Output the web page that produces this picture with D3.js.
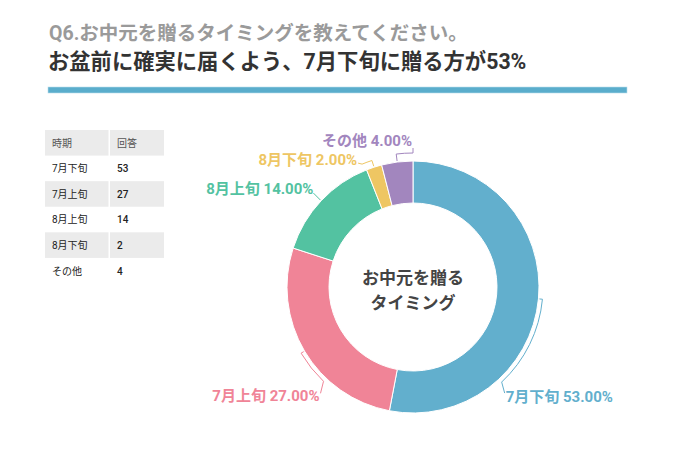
<!DOCTYPE html>
<html>
<head>
<meta charset="utf-8">
<script src="https://cdn.jsdelivr.net/npm/d3@7"></script>
<style>
  html, body { margin: 0; padding: 0; background: #fff; }
  svg { display: block; font-family: Roboto, "Noto Sans CJK JP", sans-serif; }
</style>
</head>
<body>
<svg id="chart" width="675" height="476"></svg>
<script>
// ---- data ----
const titleText = "Q6.お中元を贈るタイミングを教えてください。";
const subtitleText = "お盆前に確実に届くよう、7月下旬に贈る方が53%";
const categories = ["7月下旬", "7月上旬", "8月上旬", "8月下旬", "その他"];
const values = [53, 27, 14, 2, 4];
const tableHeaders = ["時期", "回答"];
const centerLines = ["お中元を贈る", "タイミング"];
const colors = ["#62afcd", "#f08497", "#53c2a1", "#eec663", "#a286be"];

// ---- layout (label placement, degrees clockwise from top) ----
const labelLayout = [
  { end: 137,   rb: 130, lx: 3,  ly: 11, tx: 1,  ty: 9,  anchor: "start" },
  { end: 223.5, rb: 130, lx: -3, ly: 12, tx: -1, ty: 8,  anchor: "end" },
  { end: null,  rb: 127, lx: -7, ly: -7, tx: 0,  ty: 1,  anchor: "end" },
  { end: 337.5, rb: 133, lx: -4, ly: -1, tx: -1, ty: 2,  anchor: "end" },
  { end: 360,   rb: 134, lx: 0,  ly: -5, tx: -1, ty: -2, anchor: "end" }
];

const svg = d3.select("#chart");

// header
svg.append("text").attr("x", 49).attr("y", 39.5)
  .attr("font-size", 19.5).attr("font-weight", "bold").attr("fill", "#9a9a9a")
  .text(titleText);
svg.append("text").attr("x", 48).attr("y", 69)
  .attr("font-size", 21.3).attr("font-weight", "bold").attr("fill", "#333")
  .text(subtitleText);
svg.append("rect").attr("x", 48).attr("y", 87).attr("width", 579).attr("height", 6)
  .attr("fill", "#5aadcc").attr("stroke", "#b9dcea").attr("stroke-width", 0.6);

// table
const rowY = d3.scaleBand().domain(d3.range(values.length + 1)).range([130, 283.5]);
const colX = [45, 110];
const colW = [63.5, 54];
const tbl = svg.append("g");
const rowsData = [tableHeaders].concat(categories.map((c, i) => [c, String(values[i])]));
rowsData.forEach((row, i) => {
  const shaded = i % 2 === 0;
  row.forEach((cell, j) => {
    if (shaded) {
      tbl.append("rect").attr("x", colX[j]).attr("y", rowY(i))
        .attr("width", colW[j]).attr("height", rowY.bandwidth())
        .attr("fill", "#ebebeb");
    }
    tbl.append("text")
      .attr("x", colX[j] + 7)
      .attr("y", rowY(i) + rowY.bandwidth() / 2 + 3.8)
      .attr("font-size", 10)
      .attr("font-weight", i > 0 && j === 1 ? 500 : "normal")
      .attr("fill", i === 0 ? "#555" : "#222")
      .text(cell);
  });
});

// donut
const cx = 413, cy = 287, R = 126, r0 = 84;
const total = d3.sum(values);
const pie = d3.pie().sort(null).value(d => d).startAngle(0).endAngle(2 * Math.PI);
const arcs = pie(values);
const arcGen = d3.arc().innerRadius(r0).outerRadius(R);
const g = svg.append("g").attr("transform", `translate(${cx},${cy})`);
g.selectAll("path.slice").data(arcs).join("path")
  .attr("class", "slice")
  .attr("d", arcGen)
  .attr("fill", (d, i) => colors[i])
  .attr("stroke", "#fff").attr("stroke-width", 1);

const polar = (a, rr) => [rr * Math.sin(a), -rr * Math.cos(a)];
const rad = deg => deg * Math.PI / 180;

arcs.forEach((d, i) => {
  const L = labelLayout[i];
  const mid = (d.startAngle + d.endAngle) / 2;
  const endA = L.end === null ? mid : rad(L.end);
  const p0 = polar(mid, R + 1);
  const p1 = polar(mid, L.rb);
  const p2 = polar(endA, L.rb);
  const p3 = [p2[0] + L.lx, p2[1] + L.ly];
  const sweep = endA > mid ? 1 : 0;
  let path = `M${p0[0]},${p0[1]}L${p1[0]},${p1[1]}`;
  if (Math.abs(endA - mid) > 1e-6) path += `A${L.rb},${L.rb} 0 0 ${sweep} ${p2[0]},${p2[1]}`;
  path += `L${p3[0]},${p3[1]}`;
  g.append("path").attr("d", path).attr("fill", "none")
    .attr("stroke", colors[i]).attr("stroke-width", 1);
  g.append("text")
    .attr("x", p3[0] + L.tx).attr("y", p3[1] + L.ty)
    .attr("text-anchor", L.anchor)
    .attr("font-size", 15).attr("font-weight", "bold")
    .attr("fill", colors[i])
    .text(`${categories[i]} ${(values[i] / total * 100).toFixed(2)}%`);
});

// center text
centerLines.forEach((t, i) => {
  g.append("text").attr("x", 0).attr("y", -3.5 + i * 25)
    .attr("text-anchor", "middle")
    .attr("font-size", 17).attr("font-weight", "bold").attr("fill", "#444")
    .text(t);
});
</script>
</body>
</html>
